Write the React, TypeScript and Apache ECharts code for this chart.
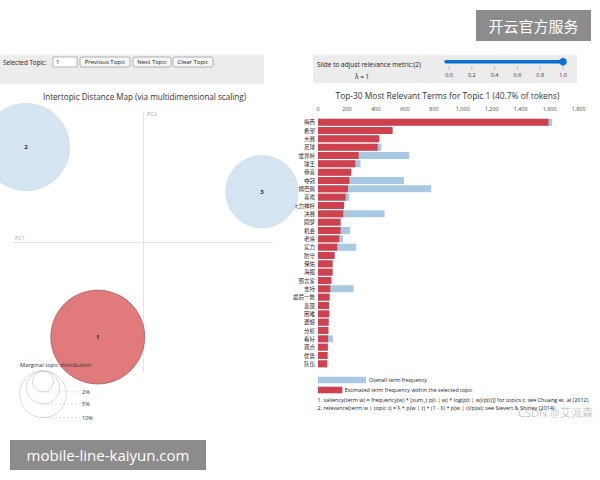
import React, { useEffect, useRef } from "react";
import * as echarts from "echarts";

// ---- data ----
const topicIds = ["1", "2", "3"];
const topicPC1 = [-0.348, -0.9, 0.915];
const topicPC2 = [-0.73, 0.737, 0.392];
const topicShare = [40.7, 35.1, 24.2]; // % of tokens

const terms = [
  "梅西", "希望", "大赛", "足球", "世界杯", "球王", "恭喜", "夺冠", "姆巴佩", "喜欢",
  "大力神杯", "决赛", "圆梦", "机会", "老将", "实力", "防守", "保佑", "海报", "预言家",
  "支持", "最后一舞", "表现", "困难", "遗憾", "分析", "看好", "观点", "优势", "队伍",
];
const overallFreq = [
  1616, 515, 423, 437, 631, 294, 230, 594, 782, 216,
  180, 460, 156, 221, 172, 264, 115, 101, 101, 92,
  246, 80, 76, 85, 74, 72, 103, 68, 66, 64,
];
const topicFreq = [
  1592, 515, 423, 412, 281, 258, 230, 217, 207, 191,
  180, 175, 156, 156, 147, 133, 115, 101, 101, 92,
  85, 80, 76, 76, 74, 72, 70, 68, 66, 64,
];
const lambdaTicks = ["0.0", "0.2", "0.4", "0.6", "0.8", "1.0"];
const marginalLevels = [2, 5, 10];

const FONT = "'Open Sans', 'Noto Sans CJK SC', sans-serif";
const SIZE_K = 14.73; // diameter per sqrt(% share)

export default function App() {
  const ref = useRef<HTMLDivElement>(null);
  useEffect(() => {
    if (!ref.current) return;
    const chart = echarts.init(ref.current, null, { renderer: "svg" });

    const txt = (text: string, x: number, y: number, size: number, extra: any = {}) => ({
      type: "text",
      x,
      y,
      z: extra.z ?? 5,
      style: {
        text,
        fontSize: size,
        fontFamily: extra.fontFamily ?? FONT,
        fill: extra.fill ?? "#333",
        align: extra.align ?? "left",
        verticalAlign: "middle",
        fontWeight: extra.fontWeight ?? "normal",
      },
    });
    const button = (label: string, x: number, w: number) => [
      {
        type: "rect",
        shape: { x, y: 57, width: w, height: 10, r: 2 },
        style: { fill: "#f6f6f6", stroke: "#8a8a8a", lineWidth: 0.6 },
        z: 4,
      },
      txt(label, x + w / 2, 62.2, 6, { align: "center", fill: "#222" }),
    ];

    // marginal topic distribution circles
    const margTop = 371;
    const margCx = 43;
    const marginal: any[] = [];
    marginalLevels.forEach((p) => {
      const r = (SIZE_K * Math.sqrt(p)) / 2;
      marginal.push({
        type: "circle",
        shape: { cx: margCx, cy: margTop + r, r },
        style: { fill: "none", stroke: "#bdbdbd", lineWidth: 0.6 },
        z: 10,
      });
      marginal.push({
        type: "line",
        shape: { x1: margCx, y1: margTop + 2 * r, x2: 80, y2: margTop + 2 * r },
        style: { stroke: "#c8c8c8", lineWidth: 0.6, lineDash: [2, 2] },
        z: 10,
      });
      marginal.push(txt(p + "%", 82, margTop + 2 * r, 5.5, { z: 10 }));
    });

    // slider ticks
    const sliderX0 = 449;
    const sliderX1 = 563;
    const sliderEls: any[] = [];
    lambdaTicks.forEach((t, i) => {
      const x = sliderX0 + ((sliderX1 - sliderX0) * i) / (lambdaTicks.length - 1);
      sliderEls.push({
        type: "line",
        shape: { x1: x, y1: 66, x2: x, y2: 69.5 },
        style: { stroke: "#999", lineWidth: 0.6 },
        z: 5,
      });
      sliderEls.push(txt(t, x, 75, 5.5, { align: "center", fill: "#333" }));
    });

    const option: any = {
      animation: false,
      backgroundColor: "#ffffff",
      textStyle: { fontFamily: FONT },
      grid: [
        { left: 13, top: 113, width: 260, height: 259 },
        { left: 318, top: 118, width: 260.6, height: 250 },
      ],
      xAxis: [
        {
          gridIndex: 0,
          type: "value",
          min: -1,
          max: 1,
          axisLine: { show: true, onZero: true, lineStyle: { color: "#dcdcdc", width: 0.8 } },
          axisTick: { show: false },
          axisLabel: { show: false },
          splitLine: { show: false },
        },
        {
          gridIndex: 1,
          type: "value",
          position: "top",
          min: 0,
          max: 1800,
          interval: 200,
          axisLine: { show: false },
          axisTick: { show: false },
          splitLine: { show: false },
          axisLabel: {
            fontSize: 5.5,
            color: "#444",
            margin: 6,
            fontFamily: FONT,
            formatter: (v: number) => v.toLocaleString("en-US"),
          },
        },
      ],
      yAxis: [
        {
          gridIndex: 0,
          type: "value",
          min: -1,
          max: 1,
          axisLine: { show: true, onZero: true, lineStyle: { color: "#dcdcdc", width: 0.8 } },
          axisTick: { show: false },
          axisLabel: { show: false },
          splitLine: { show: false },
        },
        {
          gridIndex: 1,
          type: "category",
          data: terms,
          inverse: true,
          axisLine: { show: false },
          axisTick: { show: false },
          axisLabel: {
            fontSize: 5.5,
            color: "#222",
            margin: 3,
            interval: 0,
            fontFamily: "'Noto Sans CJK SC', sans-serif",
          },
        },
      ],
      series: [
        {
          type: "scatter",
          xAxisIndex: 0,
          yAxisIndex: 0,
          clip: false,
          z: 3,
          data: topicIds.map((id, i) => ({
            name: id,
            value: [topicPC1[i], topicPC2[i], topicShare[i]],
            itemStyle:
              i === 0
                ? { color: "#e07a7c", borderColor: "#8e4a4a", borderWidth: 0.6, opacity: 1 }
                : { color: "#d4e4f0", borderColor: "#c3d6e6", borderWidth: 0.5, opacity: 1 },
            z: i === 0 ? 4 : 3,
          })),
          symbol: "circle",
          symbolSize: (v: number[]) => SIZE_K * Math.sqrt(v[2]),
          label: {
            show: true,
            position: "inside",
            formatter: "{b}",
            fontSize: 6,
            fontWeight: "bold",
            color: "#2a2a2a",
            fontFamily: FONT,
          },
        },
        {
          name: "Overall term frequency",
          type: "bar",
          xAxisIndex: 1,
          yAxisIndex: 1,
          data: overallFreq,
          barWidth: 7,
          barGap: "-100%",
          itemStyle: { color: "#a9c9e2" },
        },
        {
          name: "Estimated term frequency within the selected topic",
          type: "bar",
          xAxisIndex: 1,
          yAxisIndex: 1,
          data: topicFreq,
          barWidth: 7,
          barGap: "-100%",
          itemStyle: { color: "#cf424d" },
        },
      ],
      graphic: [
        // left control panel
        { type: "rect", shape: { x: 0, y: 55, width: 264, height: 29 }, style: { fill: "#ececec" }, z: 1 },
        txt("Selected Topic:", 3, 62.2, 6.3, { fill: "#222" }),
        {
          type: "rect",
          shape: { x: 53, y: 57, width: 24, height: 10 },
          style: { fill: "#ffffff", stroke: "#8a8a8a", lineWidth: 0.6 },
          z: 4,
        },
        txt("1", 56, 62.2, 6, { fill: "#222" }),
        ...button("Previous Topic", 80, 50),
        ...button("Next Topic", 133, 38),
        ...button("Clear Topic", 173, 40),
        txt("Intertopic Distance Map (via multidimensional scaling)", 144.5, 96, 8.1, {
          align: "center",
          fill: "#333",
        }),
        txt("PC2", 147, 114, 5.5, { fill: "#aaa" }),
        txt("PC1", 15, 237.5, 5.5, { fill: "#aaa" }),
        // marginal
        txt("Marginal topic distribution", 20, 365, 5.8, { fill: "#333", z: 10 }),
        ...marginal,
        // right control panel
        { type: "rect", shape: { x: 313, y: 55, width: 264, height: 28 }, style: { fill: "#ececec" }, z: 1 },
        txt("Slide to adjust relevance metric:(2)", 317, 64, 6.5, { fill: "#222" }),
        txt("λ = 1", 355, 76, 6.5, { fill: "#222" }),
        {
          type: "line",
          shape: { x1: 446, y1: 61.7, x2: sliderX1, y2: 61.7 },
          style: { stroke: "#0b6fd3", lineWidth: 3.5, lineCap: "round" },
          z: 5,
        },
        { type: "circle", shape: { cx: sliderX1, cy: 61.7, r: 3.8 }, style: { fill: "#0b6fd3" }, z: 6 },
        ...sliderEls,
        txt("Top-30 Most Relevant Terms for Topic 1 (40.7% of tokens)", 447.5, 95, 8.4, {
          align: "center",
          fill: "#333",
        }),
        // legend
        { type: "rect", shape: { x: 318, y: 376.7, width: 48, height: 6.6 }, style: { fill: "#a9c9e2" }, z: 5 },
        txt("Overall term frequency", 369, 380, 5.4, { fill: "#222" }),
        { type: "rect", shape: { x: 318, y: 386.7, width: 24.3, height: 6.6 }, style: { fill: "#cf424d" }, z: 5 },
        txt("Estimated term frequency within the selected topic", 344.7, 389.8, 5.4, { fill: "#222" }),
        txt(
          "1. saliency(term w) = frequency(w) * [sum_t p(t | w) * log(p(t | w)/p(t))] for topics t; see Chuang et. al (2012)",
          317.5,
          400.3,
          5.5,
          { fill: "#222" }
        ),
        txt(
          "2. relevance(term w | topic t) = λ * p(w | t) + (1 - λ) * p(w | t)/p(w); see Sievert & Shirley (2014)",
          317.5,
          408,
          5.5,
          { fill: "#222" }
        ),
        // watermarks / overlays
        txt("CSDN @艾派森", 518, 412, 11, { fill: "rgba(150,150,150,0.55)", z: 50 }),
        {
          type: "rect",
          shape: { x: 476, y: 10, width: 115, height: 31 },
          style: { fill: "rgba(128,128,128,0.9)" },
          z: 100,
        },
        txt("开云官方服务", 533.5, 25.5, 15, { align: "center", fill: "#ffffff", z: 101 }),
        {
          type: "rect",
          shape: { x: 10, y: 440, width: 196, height: 30 },
          style: { fill: "rgba(128,128,128,0.9)" },
          z: 100,
        },
        txt("mobile-line-kaiyun.com", 108, 455, 15, { align: "center", fill: "#ffffff", z: 101 }),
      ],
    };
    chart.setOption(option);
    return () => chart.dispose();
  }, []);

  return (
    <div
      ref={ref}
      style={{ position: "fixed", left: 0, top: 0, width: 600, height: 480, background: "#fff" }}
    />
  );
}
